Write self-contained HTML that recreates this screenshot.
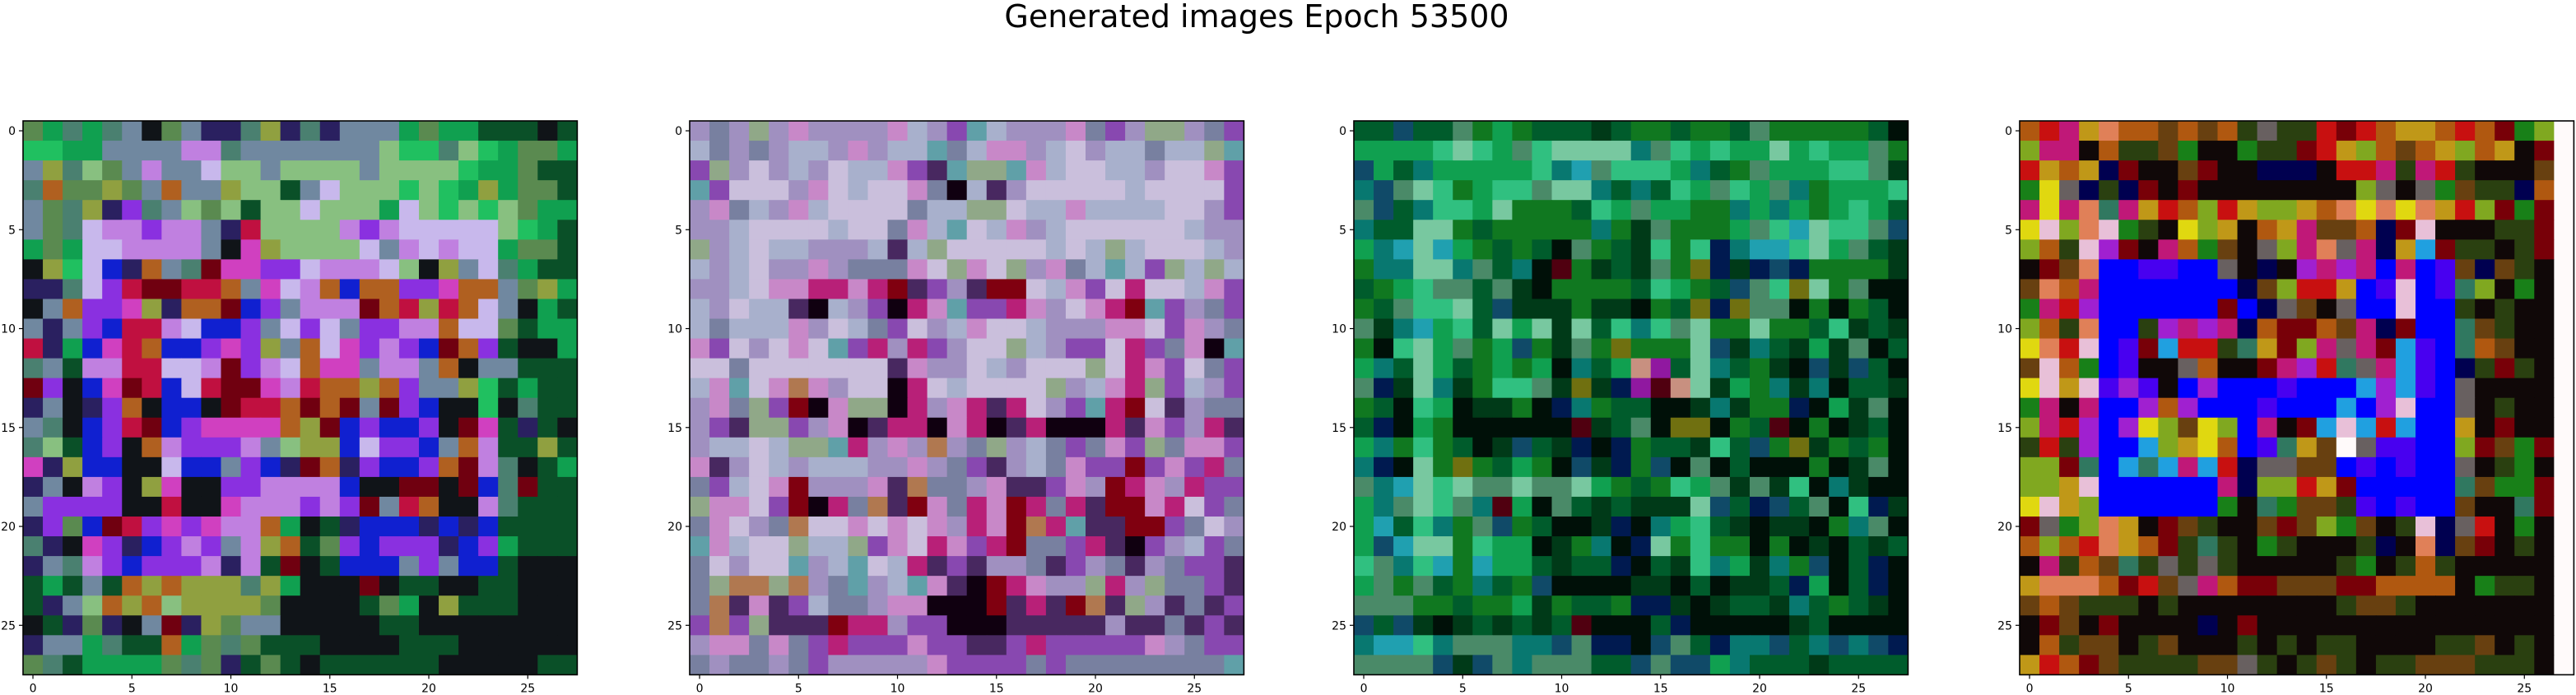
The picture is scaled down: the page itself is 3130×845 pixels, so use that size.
<!DOCTYPE html>
<html><head><meta charset="utf-8"><style>
html,body{margin:0;padding:0;background:#fff;}
svg{display:block;}
text{font-family:"DejaVu Sans","Liberation Sans",sans-serif;fill:#000;}
</style></head><body>
<svg id="fig" width="3130" height="845" viewBox="0 0 3130 845" xmlns="http://www.w3.org/2000/svg">
<rect x="0" y="0" width="3130" height="845" fill="#fff"/>
<text x="1527" y="33" font-size="38" text-anchor="middle">Generated images Epoch 53500</text>
</svg>
<script>
const xTicks = [0, 5, 10, 15, 20, 25];
const yTicks = [0, 5, 10, 15, 20, 25];
const panelLefts = [28, 838, 1645, 2454];
const pal1 = {a:'#5a8a50',g:'#10a050',G:'#20c060',d:'#0a5028',k:'#101418',t:'#4a8070',s:'#7088a0',l:'#88c080',w:'#c8b8ec',v:'#c080e0',p:'#8a30e0',b:'#1020d0',r:'#c01040',m:'#d040c0',o:'#b06020',y:'#90a040',n:'#2a2060',x:'#700010'};
const rows1 = [
"agtgtskasnntyntnsssgaggdddk".padEnd(28,'d'),
"GGggssssvvtssssssslGGtlGgaagd".slice(0,28),
"sytlasvsswllsllllsllllGggad".padEnd(28,'d'),
"toaayasossylldswlllGlGgygaad",
"satynptslaldllwlllgwlGlGlag",
"satwvvpvvsnrllllvpvwwwwwlGgd",
"gagwwvvvvskmyllllwsvwvwwgaad",
"kyGwbnostxmmppwvvvwlkyswtgdd",
"nntwprxxrrosmwvobooppmoosayg",
"ksoppmynooxbpsvvvxoryrowskgd",
"snspbrrvwbbpswpwsppvvowwadgg",
"rngbmrobbpmpysowmpvpbxopdkkg",
"tsdvvrrwwvxpvwommsvvsokssddd",
"xpkbmxrbwrxxmvrooyopssyGdgdd",
"nsknpokbbkxrroxoxsxpbkkGktdd",
"stkbprxbpmmmmoyxbpbbpkxmdndk",
"tldbpkovpppvslyybwppbsovddyd",
"mnybbkkwbbspbnxonpbbpoxvtkdg",
"nskvpkymkkppvvvvbkkxxkxbtxdd",
"sppppkkrkkmvvvpvpxsrokkvtddd",
"npabxrpmpmvvogkdnbbbnbnbdddd",
"tnkmpnbpvpsvyodapbpppnbpgddd",
"nstvpbpppvnvdxkdbbbspsbbdkkk",
"dgdsdoyoyyytygkkkxkddkkddkkk",
"dnsloyolyyyyakkkkdagkydddkkk",
"kdnanksxnyasskkkkkddkkkkkkkk",
"nssgtddogatadddkkkkdddkkkkkk",
"atdggggatandadkddddddkkkkkdd"];
const pal2 = {a:'#a090c0',b:'#a8b0cc',w:'#cabfdc',p:'#c888c8',v:'#8848b0',m:'#b82078',k:'#100010',r:'#800010',t:'#60a0a8',g:'#90a888',s:'#7880a0',n:'#482860',o:'#b07850'};
const rows2 = [
"asagapaaaapbavtbaaapsvaggasv",
"bsasabbapabbtsbppabwabbsbbgt",
"vgawabawbbpvntggtpbwwbbawwpv",
"tvwwwapwbwwpskbnawwwwwbwwwwv",
"apsbapbwwwwsbbggwbbpbbbbwwav",
"aabwwwwbwwspbtwbpabwwwwwwbaa",
"gabwbbaaabnbgwwwwwbwbgbwwwba",
"babwaapassspwgpwgapsbtbvgbgbv".slice(0,28),
"aabwppmmpmrnvanrrwbpvwmwwbpv",
"bawbbnkbavkmptvvmpawpmrtvasv",
"bsbbbpawbsvwabpwwbaaappwvpas",
"pvwawpwtvmamvawwgbavvwmvspkt",
"wwswwwwwwwnpaawbawwwgwmpvwsv",
"bptwpopawwkmwbwwwwgabpmgvbav",
"apsgvrkpggkmapmnmwavtmrwnass",
"avnggvapknmmkpmknmkkkmnpvamn",
"abbwbggtmapaoasgabsvspvgsppv",
"pnawbabbbaapasvnabspvvrvpvms",
"svbwpraaapnossapnnvparmpamvv",
"gppwvrkmsonrpsmprmsmnrrpmwvs",
"spwasowwpwpwpampromtnnrrvswav".slice(0,28),
"tpbwwgbbgvpwmpvmrssvmnkvabvs",
"swawwtabtwbmnvnaasnvasnasvvn",
"sgoogoastabtpnkrmpaagmagssvn",
"sonpnvbssappkkkrnmnrongansnvn".slice(0,28),
"vovgnnnrmmavvkkknnnnnannsnvn",
"appspsvmvvvpvvnnvmvvvvvpasvv",
"sassasvaaaaapvvvvsvsssssssst"];
const pal3 = {g:'#10a050',G:'#30c080',l:'#78c8a0',d:'#005c2c',D:'#003a18',k:'#001008',e:'#107820',t:'#087870',b:'#104a68',n:'#001a50',s:'#4a8a68',c:'#20a0b0',r:'#500010',m:'#9018a0',o:'#707010',p:'#c89080'};
const rows3 = [
"ddbddsegedddDdeedeedseeeeedk",
"ggggGlGgsGlllltsGgGgglgGggseD",
"bgdtgggggGtcsGGGgtdesgggGGsD",
"tbslGegGGslltdtdGgsGgstegggGsd".slice(0,28),
"sbdtGGgleeedGgsggeetgtgegGgd",
"tddlledeeeeeteDseeegsGclGGsb",
"gtclcgededksedDGeGntccGlgsdD",
"ettlltsdtkreDdDseonDnbneeeeD",
"degGssdsDkeeeedGgedbsGolesk k".replace(' ','').slice(0,28),
"edsGGldbDDDeDDkedonosskekedk",
"sDtcgGdlglDldGtGsleeleedGDdDD".slice(0,28),
"ekGlgsegbeDseoeeelbDtdDgDskd",
"gtdlgdegegktdgpmdltdeDkbDbdk",
"snDltDeGGsDoDnmrplDgetDtkddD",
"edkGgkDDeknteddkkDtDeenkgDskD".slice(0,28),
"dnkgekkkkkkrDdskooked rkekDdk".replace(' ','').slice(0,28),
"gteGedkDbdDnkneddDGdbeoDedekk",
"tnkleoedgekbDnebkskdkkkekDsk",
"stclGlsslsslgedeGgsDsDGktDk".padEnd(28,'k'),
"gtslGstrgksdDdDDDlbdnbdskGnD",
"gcdGtesbedkkDnktgGdDkDDketsk",
"gbclleGggkDetknleGeekekDkdDd",
"GstGcecggdDddnkdDGtgDtebkdnk",
"gsesdetdebkkkkDDkdkDDdngkdnk",
"ssseedeegDeddennDkDddDtdedDkk".slice(0,28),
"bdbDkDdDdDdrkkkdnkkkkkDdkkkk",
"tccGtsssttbsnnkbsdnttbdtbtbn",
"ssssbDbstsssddbsbbgtdddDdddd"];
const pal4 = {o:'#b05810',r:'#c81010',R:'#780008',m:'#c01878',y:'#c09818',Y:'#e0d810',l:'#80a820',g:'#188018',d:'#2a4010',k:'#100808',n:'#000050',B:'#0000ff',V:'#4800f0',p:'#a020d0',w:'#e8c0d8',s:'#686060',c:'#20a0e0',t:'#307860',W:'#fffafa',e:'#e08058',b:'#684010'};
const rows4 = [
"ormyeoobobodsddrRroyyoroRglW",
"lmmkoddbgkkgddRrylobOylOykRW".replace(/O/g,'o'),
"ryoynRkkbRkknnnkrrmdmrdkkkbW",
"gYsndnRkRkkkkkkkklsksgbddnoW",
"mYmetmyrolryllyoeYeYeyrlRgRW",
"YwlewgdkYlykoymbbonRwkkkddRW",
"lodwpRkmogbkslmesmnycRddkdRW",
"kRbeBBVVBBsknkpmpmBmBVbnbdkW",
"beomBBBBBBBnblrryBVwBVtlkgkW",
"gmrpBBBBBBRBnsbksBBwBBdkdkkW",
"lodeBBdpmpmnoRRobmnRBBtbdkkW",
"YerwBVRcrrdtyRlmsmRcVBtobkkW",
"bwogBVkksokkRmprtsmcVBndRdkW",
"YwywVpVkBpBBBVBBBcpcVBskkkkW",
"gmkmBBpopBBBVBBBcBpwBBskdkkW",
"lmrpBpYlbYlBmkRcwcrcBBykRkkW",
"drdpBBclyYoBVtybWsVVBBlRbgRW",
"llRtBctcmcrnssbbBVBVBBskdgkW",
"llywBBBBBBmnllryRBBBBBtbggRW",
"YwylBBBBBBgktgbbdVBVBBbkktRW",
"RsgleykRbdkkbRblgbkdwnsrkgkW",
"oloreyoRdtdkgdkkkdnkenbRkdkW",
"kmdobtdsdsdkkkkkdgkdodkkkkkW",
"yeeeoRrbsmoRRbbbRRooookgddkkW".slice(0,27)+"W",
"bobdddkdkkkkkkkkdbbdkkkkkkkW",
"kRbkRkkkknkRkkkkkkkkkkkkkkkW",
"kodbbkdbkkkdkdkddkkkkddbkdkW",
"yroRbddddbbsdkdbdkddbbbdddkW"];
const panels = [[pal1, rows1], [pal2, rows2], [pal3, rows3], [pal4, rows4]];
const TOP = 147, CELL = 24.05, N = 28;
const svg = document.getElementById('fig');
const NS = 'http://www.w3.org/2000/svg';
function xScale(p, i) { return panelLefts[p] + i * CELL; }
function yScale(j) { return TOP + j * CELL; }
function mk(tag, attrs) { const e = document.createElementNS(NS, tag); for (const k in attrs) e.setAttribute(k, attrs[k]); return e; }
panels.forEach(([pal, rows], p) => {
  const g = mk('g', {});
  
  
  svg.appendChild(g);
  for (let j = 0; j < N; j++) {
    const row = rows[j] || '';
    for (let i = 0; i < N; i++) {
      const ch = row[i] || row[row.length - 1];
      const col = pal[ch] || '#000';
      const r = mk('rect', {x: xScale(p, i).toFixed(2), y: yScale(j).toFixed(2), width: (CELL + 0.6).toFixed(2), height: (CELL + 0.6).toFixed(2), fill: col});
      
      
      g.appendChild(r);
    }
  }
  const frame = mk('rect', {x: panelLefts[p], y: TOP, width: (N * CELL).toFixed(2), height: (N * CELL).toFixed(2), fill: 'none', stroke: '#000', 'stroke-width': 1.6});
  
  
  svg.appendChild(frame);
  xTicks.forEach(t => {
    const x = xScale(p, t + 0.5);
    const bottom = TOP + N * CELL;
    const tk = mk('line', {x1: x, x2: x, y1: bottom, y2: bottom + 5, stroke: '#000', 'stroke-width': 1.2});
    
    
    svg.appendChild(tk);
    const lb = mk('text', {x: x, y: bottom + 21, 'font-size': 14, 'text-anchor': 'middle'});
    
    
    lb.textContent = t;
    svg.appendChild(lb);
  });
  yTicks.forEach(t => {
    const y = yScale(t + 0.5);
    const left = panelLefts[p];
    const tk = mk('line', {x1: left - 5, x2: left, y1: y, y2: y, stroke: '#000', 'stroke-width': 1.2});
    
    
    svg.appendChild(tk);
    const lb = mk('text', {x: left - 9, y: y + 5, 'font-size': 14, 'text-anchor': 'end'});
    
    
    lb.textContent = t;
    svg.appendChild(lb);
  });
});
</script>
</body></html>
